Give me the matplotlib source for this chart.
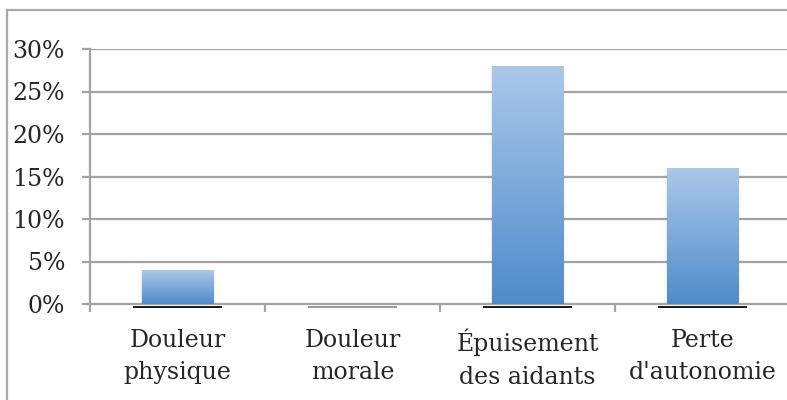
import numpy as np
import matplotlib.pyplot as plt
from matplotlib.colors import LinearSegmentedColormap
from matplotlib.lines import Line2D

categories = ["Douleur\nphysique", "Douleur\nmorale", "Épuisement\ndes aidants", "Perte\nd'autonomie"]
values = [0.04, 0.0, 0.28, 0.16]
yticks = [0.0, 0.05, 0.10, 0.15, 0.20, 0.25, 0.30]
ytick_labels = ["0%", "5%", "10%", "15%", "20%", "25%", "30%"]

plt.rcParams["font.family"] = ["DejaVu Serif"]

fig = plt.figure(figsize=(7.87, 4.0), dpi=100)
ax = fig.add_axes([90 / 787, 96 / 400, 700 / 787, 255 / 400])

grid_col = "#a3a3a3"
text_col = "#262626"
bar_w = 0.41

x = np.arange(len(categories))
ax.set_xlim(-0.5, 3.5)
ax.set_ylim(0, 0.30)

for yv in yticks[1:]:
    ax.axhline(yv, color=grid_col, lw=1.6, zorder=1)

bars = ax.bar(x, values, width=bar_w, color="none", edgecolor="none", zorder=3)
cmap = LinearSegmentedColormap.from_list("g", ["#4f8bcb", "#abc8e9"])
grad = np.linspace(0, 1, 256).reshape(-1, 1)
for b in bars:
    h = b.get_height()
    if h <= 0:
        continue
    x0 = b.get_x()
    ax.imshow(grad, cmap=cmap, origin="lower", aspect="auto",
              extent=(x0, x0 + b.get_width(), 0, h), zorder=3)
    # soft shadow
    for k, a in enumerate([0.06, 0.04, 0.02]):
        d = 0.006 * (k + 1)
        ax.add_patch(plt.Rectangle((x0 - d, 0), b.get_width() + 2 * d, h + d * 0.03,
                                   color="#808080", alpha=a, lw=0, zorder=2))

for xi, v in zip(x, values):
    col = "#1a1a1a" if v > 0 else "#999999"
    ax.hlines(-0.003, xi - 0.255, xi + 0.255, color=col, lw=1.4, zorder=4, clip_on=False)

ax.set_yticks(yticks)
ax.set_yticklabels(ytick_labels)
ax.set_xticks(x)
ax.set_xticklabels(categories, linespacing=1.5)
ax.set_xticks(np.arange(-0.5, 3.5, 1.0), minor=True)

ax.tick_params(axis="y", which="major", length=6, width=1.6, color=grid_col,
               direction="out", pad=12, labelsize=17, labelcolor=text_col)
ax.tick_params(axis="x", which="major", length=0, pad=18, labelsize=17,
               labelcolor=text_col)
ax.tick_params(axis="x", which="minor", length=6, width=1.6, color=grid_col,
               direction="out")

for s in ["top", "right"]:
    ax.spines[s].set_visible(False)
for s in ["left", "bottom"]:
    ax.spines[s].set_color(grid_col)
    ax.spines[s].set_linewidth(1.6)

# outer chart border
fig.add_artist(Line2D([7 / 787, 7 / 787], [0, 1 - 10 / 400], color="#a8a8a8", lw=1.6))
fig.add_artist(Line2D([7 / 787, 1], [1 - 10 / 400, 1 - 10 / 400], color="#a8a8a8", lw=1.6))

fig.savefig("out.png", dpi=100)
